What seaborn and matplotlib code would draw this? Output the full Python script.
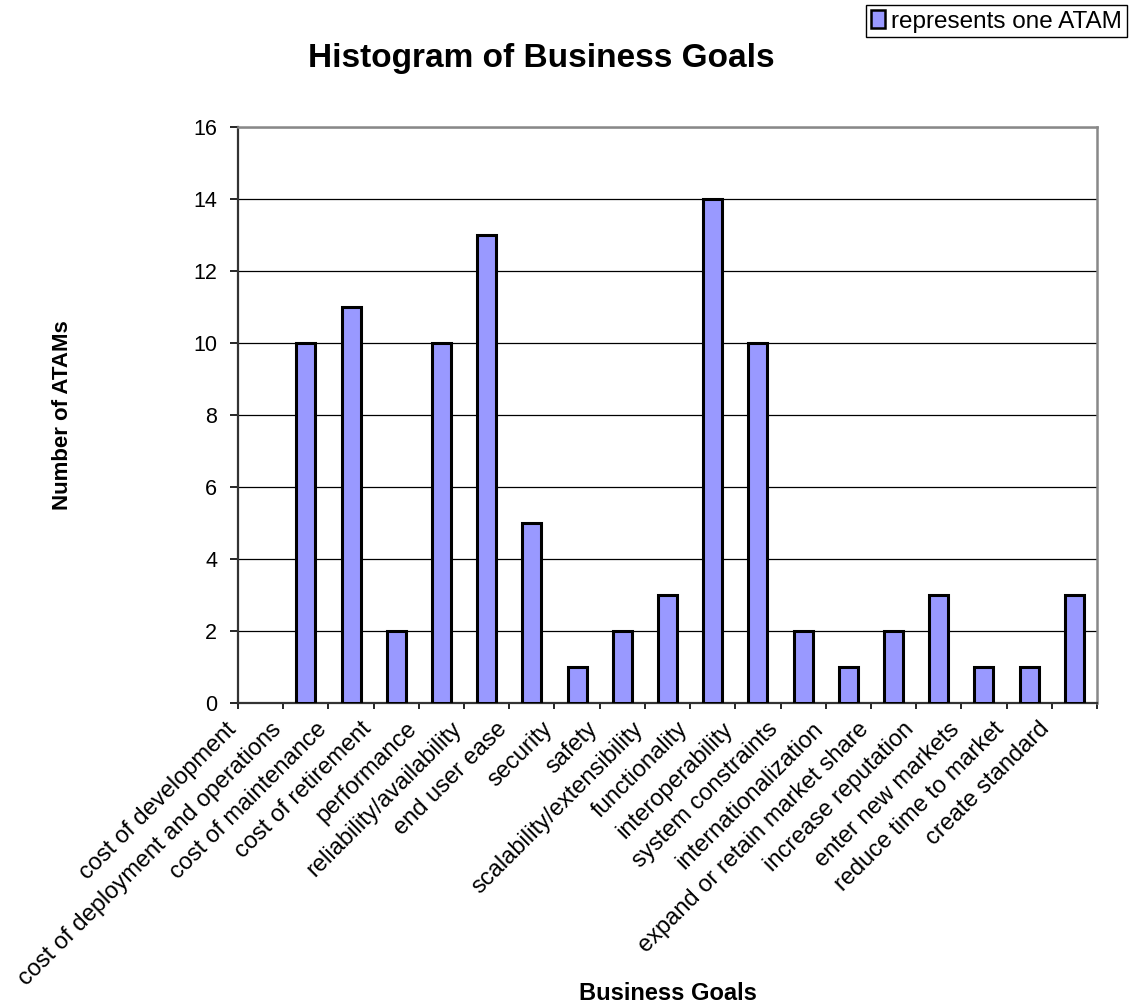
import matplotlib
matplotlib.use("Agg")
import matplotlib.pyplot as plt
import matplotlib.transforms as mtransforms
from matplotlib.patches import Patch
import numpy as np
import pandas as pd
import seaborn as sns

# Business goals named in the ATAM evaluations and how many ATAMs cited each
goals = [
    "cost of development",
    "cost of deployment and operations",
    "cost of maintenance",
    "cost of retirement",
    "performance",
    "reliability/availability",
    "end user ease",
    "security",
    "safety",
    "scalability/extensibility",
    "functionality",
    "interoperability",
    "system constraints",
    "internationalization",
    "expand or retain market share",
    "increase reputation",
    "enter new markets",
    "reduce time to market",
    "create standard",
]
atam_counts = [0, 10, 11, 2, 10, 13, 5, 1, 2, 3, 14, 10, 2, 1, 2, 3, 1, 1, 3]
y_ticks = [0, 2, 4, 6, 8, 10, 12, 14, 16]

title_text = "Histogram of Business Goals"
x_title = "Business Goals"
y_title = "Number of ATAMs"
legend_text = "represents one ATAM"

BAR_COLOR = "#9999FF"

sns.set_style("white")
plt.rcParams["font.family"] = ["Liberation Sans", "DejaVu Sans"]
plt.rcParams.update({
    "text.color": "black",
    "axes.labelcolor": "black",
    "xtick.color": "black",
    "ytick.color": "black",
})

df = pd.DataFrame({"goal": goals, "count": atam_counts})

W, H = 1129, 1008
fig = plt.figure(figsize=(W / 100, H / 100), dpi=100)
ax = fig.add_axes([238 / W, 1 - 703 / H, (1097 - 238) / W, (703 - 127) / H])

sns.barplot(data=df, x="goal", y="count", order=goals, color=BAR_COLOR,
            width=0.42, edgecolor="black", linewidth=2.2, saturation=1,
            ax=ax, zorder=3)
# an empty category gets no outline
for bar in ax.patches:
    if bar.get_height() == 0:
        bar.set_linewidth(0)

ax.set_xlim(-0.5, len(goals) - 0.5)
ax.set_ylim(0, 16)
ax.set_yticks(y_ticks)
ax.set_yticklabels([str(v) for v in y_ticks], fontsize=15.5)
ax.tick_params(axis="y", which="major", direction="out", length=6,
               width=1.2, color="black", pad=9, left=True)

# category labels at bar centres, tick marks on category boundaries
ax.set_xticks(np.arange(len(goals)))
ax.set_xticklabels(goals, fontsize=17, rotation=45, ha="right",
                   va="center", rotation_mode="anchor")
ax.tick_params(axis="x", which="major", length=0, pad=16.5)
ax.set_xticks(np.arange(len(goals) + 1) - 0.5, minor=True)
ax.tick_params(axis="x", which="minor", direction="out", length=4,
               width=1.2, color="black", bottom=True)
shift = mtransforms.ScaledTranslation(-0.28, 0, fig.dpi_scale_trans)
for lab in ax.get_xticklabels():
    lab.set_transform(lab.get_transform() + shift)

ax.yaxis.grid(True, color="black", linewidth=0.9)
ax.xaxis.grid(False)
ax.set_axisbelow(True)

for side in ("top", "right"):
    ax.spines[side].set_visible(True)
    ax.spines[side].set_color("#888888")
    ax.spines[side].set_linewidth(1.8)
ax.spines["left"].set_color("#333333")
ax.spines["left"].set_linewidth(1.6)
ax.spines["bottom"].set_color("#333333")
ax.spines["bottom"].set_linewidth(1.6)

ax.set_xlabel(x_title, fontsize=17, fontweight="bold", va="center")
ax.xaxis.set_label_coords(0.5, (703 - 994) / (703 - 127))
ax.set_ylabel(y_title, fontsize=16, fontweight="bold", va="center")
ax.yaxis.set_label_coords((63 - 238) / (1097 - 238), 0.5)

fig.text(541 / W, 1 - 58 / H, title_text, fontsize=24, fontweight="bold",
         ha="center", va="center")

handle = Patch(facecolor=BAR_COLOR, edgecolor="black", linewidth=1.8,
               label=legend_text)
leg = fig.legend(handles=[handle], loc="upper right",
                 bbox_to_anchor=(1127 / W, 1 - 5 / H), fontsize=17.5,
                 frameon=True, fancybox=False, framealpha=1,
                 edgecolor="black", handlelength=0.6, handleheight=0.8,
                 handletextpad=0.25, borderpad=0.2, borderaxespad=0)
leg.get_frame().set_linewidth(1.0)

fig.savefig("out.png", dpi=100, facecolor="white")
